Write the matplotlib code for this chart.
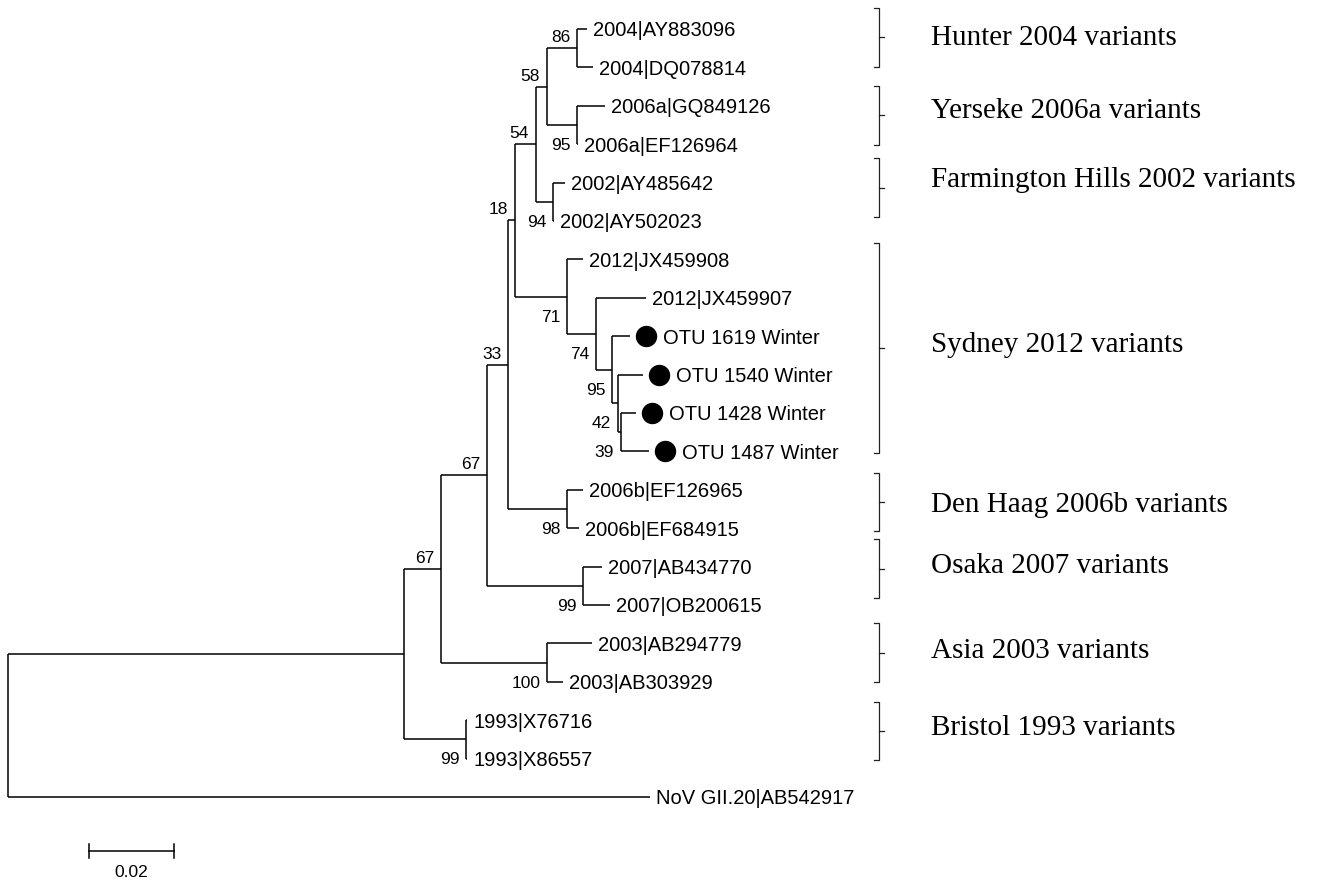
import matplotlib
matplotlib.use("Agg")
import matplotlib.pyplot as plt
from matplotlib.transforms import offset_copy

# ---------------- data ----------------
node_names = ["root", "n1", "n2", "n3", "n4", "n5", "n6", "n7", "n8",
              "2004|AY883096", "2004|DQ078814",
              "n9", "2006a|GQ849126", "2006a|EF126964",
              "n10", "2002|AY485642", "2002|AY502023",
              "n11", "2012|JX459908", "n12", "2012|JX459907",
              "n13", "OTU 1619 Winter", "n14", "OTU 1540 Winter",
              "n15", "OTU 1428 Winter", "OTU 1487 Winter",
              "n16", "2006b|EF126965", "2006b|EF684915",
              "n17", "2007|AB434770", "2007|OB200615",
              "n18", "2003|AB294779", "2003|AB303929",
              "n19", "1993|X76716", "1993|X86557",
              "NoV GII.20|AB542917"]
node_parent = [None, "root", "n1", "n2", "n3", "n4", "n5", "n6", "n7",
               "n8", "n8",
               "n7", "n9", "n9",
               "n6", "n10", "n10",
               "n5", "n11", "n11", "n12",
               "n12", "n13", "n13", "n14",
               "n14", "n15", "n15",
               "n4", "n16", "n16",
               "n3", "n17", "n17",
               "n2", "n18", "n18",
               "n1", "n19", "n19",
               "root"]
branch_len = [0.0, 0.0932, 0.00871, 0.01082, 0.00494, 0.00165, 0.00494, 0.00259, 0.00706,
              0.00235, 0.00376,
              0.00706, 0.00659, 0.0002,
              0.0040, 0.00282, 0.0001,
              0.01224, 0.00376, 0.00682, 0.01176,
              0.00376, 0.00424, 0.00141, 0.00588,
              0.00071, 0.00353, 0.00659,
              0.01388, 0.00376, 0.00282,
              0.02259, 0.00447, 0.00635,
              0.02494, 0.01059, 0.00376,
              0.01459, 0.0002, 0.0002,
              0.1511]
boot_nodes = ["n2", "n3", "n4", "n5", "n6", "n7", "n8", "n9", "n10",
              "n11", "n12", "n13", "n14", "n15", "n16", "n17", "n18", "n19"]
boot_values = [67, 67, 33, 18, 54, 58, 86, 95, 94,
               71, 74, 95, 42, 39, 98, 99, 100, 99]
boot_above = [True, True, True, True, True, True, True, False, False,
              False, False, False, False, False, False, False, False, False]

group_names = ["Hunter 2004 variants", "Yerseke 2006a variants",
               "Farmington Hills 2002 variants", "Sydney 2012 variants",
               "Den Haag 2006b variants", "Osaka 2007 variants",
               "Asia 2003 variants", "Bristol 1993 variants"]
group_first = ["2004|AY883096", "2006a|GQ849126", "2002|AY485642", "2012|JX459908",
               "2006b|EF126965", "2007|AB434770", "2003|AB294779", "1993|X76716"]
group_last = ["2004|DQ078814", "2006a|EF126964", "2002|AY502023", "OTU 1487 Winter",
              "2006b|EF684915", "2007|OB200615", "2003|AB303929", "1993|X86557"]

scale_value = 0.02
scale_label = "0.02"

# ---------------- layout ----------------
W, H, DPI = 13.17, 8.81, 100
PX_PER_UNIT = 4250.0
ROOT_PX = 8
LEAF0_PX, LEAF_STEP = 29, 38.4
bracket_top_pad = [-0.55, -0.52, -0.64, -0.43, -0.44, -0.72, -0.53, -0.47]
bracket_bot_pad = [-0.01, 0.02, -0.10, 0.04, 0.07, -0.18, 0.01, 0.04]
label_base_off = [0.20, 0.07, -0.02, 0.11, 0.27, 0.12, 0.14, 0.11]
BRACKET_X_PX = 879
LABEL_X_PX = 931
SCALE_X_PX, SCALE_Y_PX, SCALE_LABEL_Y_PX = 89, 851, 871

LEAF_FONT = ["Liberation Sans", "DejaVu Sans"]
GROUP_FONT = ["Liberation Serif", "DejaVu Serif"]

fig = plt.figure(figsize=(W, H), dpi=DPI)
ax = fig.add_axes([0, 0, 1, 1])
ax.set_xlim((0 - ROOT_PX) / PX_PER_UNIT, (W * DPI - ROOT_PX) / PX_PER_UNIT)
ax.set_ylim((H * DPI - LEAF0_PX) / LEAF_STEP, (0 - LEAF0_PX) / LEAF_STEP)
ax.axis("off")

def px2x(px):
    return (px - ROOT_PX) / PX_PER_UNIT

def px2y(px):
    return (px - LEAF0_PX) / LEAF_STEP

idx = {n: i for i, n in enumerate(node_names)}
children = {n: [] for n in node_names}
for n, p in zip(node_names, node_parent):
    if p is not None:
        children[p].append(n)

xpos, ypos = {}, {}
leaf_counter = [0]

def layout(n, x):
    xpos[n] = x
    if not children[n]:
        ypos[n] = leaf_counter[0]
        leaf_counter[0] += 1
    else:
        for c in children[n]:
            layout(c, x + branch_len[idx[c]])
        ypos[n] = (ypos[children[n][0]] + ypos[children[n][-1]]) / 2.0

layout("root", 0.0)

LW = 1.1
for n, p in zip(node_names, node_parent):
    if p is not None:
        ax.plot([xpos[p], xpos[n]], [ypos[n], ypos[n]], color="black", lw=LW,
                solid_capstyle="butt")
    if children[n]:
        ys = [ypos[c] for c in children[n]]
        ax.plot([xpos[n], xpos[n]], [min(ys), max(ys)], color="black", lw=LW,
                solid_capstyle="butt")

text_tr = offset_copy(ax.transData, fig=fig, x=4.5, y=0, units="points")
otu_text_tr = offset_copy(ax.transData, fig=fig, x=24, y=0, units="points")
marker_tr = offset_copy(ax.transData, fig=fig, x=11.5, y=0, units="points")
for n in node_names:
    if children[n]:
        continue
    if n.startswith("OTU"):
        ax.plot([xpos[n]], [ypos[n]], "o", color="black", ms=14.4,
                transform=marker_tr)
        ax.text(xpos[n], ypos[n], n, transform=otu_text_tr, ha="left",
                va="center_baseline", fontsize=14.5, family=LEAF_FONT)
    else:
        ax.text(xpos[n], ypos[n], n, transform=text_tr, ha="left",
                va="center_baseline", fontsize=14.5, family=LEAF_FONT)

for n, v, above in zip(boot_nodes, boot_values, boot_above):
    dy = 8.6 if above else -13.7
    ax.annotate(str(v), (xpos[n], ypos[n]), xytext=(-5, dy),
                textcoords="offset points", ha="right", va="center_baseline",
                fontsize=12.5, family=LEAF_FONT)

bx = px2x(BRACKET_X_PX)
tick = 5 / PX_PER_UNIT
for g, f, l, tp, bp, lo in zip(group_names, group_first, group_last,
                                bracket_top_pad, bracket_bot_pad, label_base_off):
    y0 = ypos[f] + tp
    y1 = ypos[l] + bp
    ym = (y0 + y1) / 2
    ax.plot([bx - tick, bx, bx, bx - tick], [y0, y0, y1, y1], color="#222222",
            lw=0.9)
    ax.plot([bx, bx + tick], [ym, ym], color="#222222", lw=0.9)
    ax.text(px2x(LABEL_X_PX), ym + lo, g, ha="left", va="baseline",
            fontsize=21, family=GROUP_FONT)

sx0 = px2x(SCALE_X_PX)
sy = px2y(SCALE_Y_PX)
tk = 7 / LEAF_STEP
ax.plot([sx0, sx0 + scale_value], [sy, sy], color="black", lw=LW)
ax.plot([sx0, sx0], [sy - tk, sy + tk], color="black", lw=LW)
ax.plot([sx0 + scale_value] * 2, [sy - tk, sy + tk], color="black", lw=LW)
ax.text(sx0 + scale_value / 2, px2y(SCALE_LABEL_Y_PX), scale_label, ha="center",
        va="center_baseline", fontsize=12.5, family=LEAF_FONT)

fig.savefig("out.png", dpi=DPI, facecolor="white")
